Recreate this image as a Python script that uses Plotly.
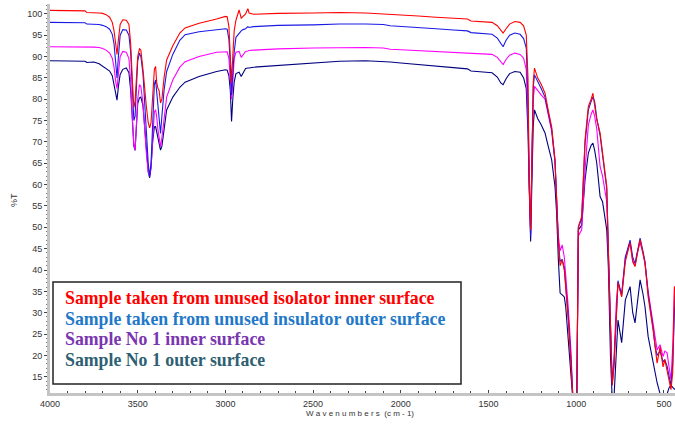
import plotly.graph_objects as go

# Wavenumber grid (cm-1) and %T values
wavenumbers = [4000, 3900, 3800, 3790, 3750, 3720, 3700, 3680, 3660, 3645, 3635, 3625, 3618, 3610,
               3600, 3585, 3565, 3550, 3540, 3530, 3522, 3515, 3508, 3500, 3490, 3482, 3470, 3460,
               3450, 3440, 3432, 3424, 3415, 3405, 3398, 3392, 3385, 3378, 3370, 3362, 3350, 3335,
               3300, 3260, 3230, 3150, 3050, 3000, 2990, 2980, 2972, 2965, 2958, 2950, 2940, 2922,
               2910, 2900, 2885, 2872, 2865, 2840, 2700, 2500, 2350, 2200, 2100, 2060, 2000, 1900,
               1800, 1700, 1620, 1600, 1550, 1480, 1450, 1430, 1417, 1400, 1380, 1350, 1320, 1300,
               1285, 1275, 1268, 1260, 1252, 1245, 1238, 1220, 1200, 1178, 1160, 1140, 1121, 1112,
               1102, 1092, 1080, 1068, 1060, 1045, 1030, 1018, 1005, 997, 988, 969, 950, 931,
               915, 905, 895, 883, 864, 850, 826, 817, 805, 795, 785, 772, 762, 741,
               720, 693, 678, 665, 650, 636, 620, 608, 590, 575, 562, 550, 539, 522,
               505, 495, 482, 470, 460, 450, 440, 437]

unused_inner = [100.8, 100.8, 100.7, 100.3, 100.3, 100.2, 100.1, 99.8, 99.2, 98.0, 96.0, 92.0, 90.5, 94.0,
                97.5, 98.6, 98.5, 97.5, 93.0, 84.0, 78.0, 79.5, 85.0, 90.0, 91.8, 91.5, 87.0, 82.0,
                78.0, 74.5, 73.3, 74.5, 80.0, 87.0, 87.7, 84.0, 82.6, 82.0, 79.1, 80.0, 85.0, 89.2,
                92.5, 95.5, 96.7, 97.8, 98.8, 99.4, 99.3, 97.0, 90.0, 84.0, 90.0, 96.0, 98.5, 100.9,
                99.0, 99.5, 100.0, 101.2, 100.2, 99.9, 100.1, 100.2, 100.3, 100.2, 100.0, 99.8, 99.8, 99.5,
                99.2, 99.0, 98.8, 98.3, 98.2, 98.0, 97.2, 96.0, 95.5, 96.5, 97.6, 98.2, 98.0, 97.2,
                95.0, 85.0, 60.0, 49.4, 70.0, 84.0, 87.3, 85.0, 83.5, 81.4, 77.5, 73.5, 65.8, 56.4,
                46.4, 41.0, 42.4, 40.0, 36.0, 28.0, 18.0, 9.0, 9.0, 9.0, 50.2, 52.5, 70.5, 78.3,
                80.0, 81.4, 78.5, 75.2, 72.1, 67.4, 59.6, 44.7, 28.0, 13.0, 17.4, 30.0, 37.0, 33.7,
                42.0, 46.4, 42.0, 40.8, 44.0, 47.1, 44.0, 41.6, 33.7, 30.0, 26.0, 22.0, 18.2, 22.0,
                17.3, 19.0, 16.6, 14.0, 12.0, 16.0, 36.1, 36.0]

unused_outer = [98.0, 98.0, 97.9, 97.6, 97.6, 97.5, 97.3, 97.0, 96.4, 95.2, 93.0, 88.0, 85.0, 90.0,
                95.0, 96.3, 96.2, 95.0, 91.0, 82.0, 75.0, 76.0, 83.0, 89.0, 90.8, 90.0, 86.0, 80.0,
                72.0, 65.0, 62.0, 65.0, 76.0, 83.5, 84.5, 82.0, 80.0, 77.0, 72.0, 76.0, 82.0, 86.5,
                90.5, 93.8, 95.1, 95.8, 96.3, 96.5, 96.4, 94.0, 88.0, 81.0, 86.0, 91.0, 94.5, 95.5,
                96.0, 96.3, 96.5, 97.0, 96.8, 97.0, 97.3, 97.4, 97.6, 97.6, 97.5, 97.2, 97.0, 96.8,
                96.5, 96.2, 96.0, 95.6, 95.5, 95.2, 94.3, 93.0, 92.3, 93.8, 95.0, 95.5, 95.2, 94.2,
                92.0, 80.0, 58.8, 48.0, 68.0, 83.0, 85.7, 84.0, 82.5, 80.5, 77.0, 73.0, 65.5, 56.0,
                46.5, 42.0, 42.5, 40.5, 37.0, 29.0, 19.0, 9.0, 9.0, 9.0, 50.0, 52.0, 69.5, 77.5,
                79.5, 80.5, 79.5, 75.5, 71.5, 67.0, 59.0, 45.0, 29.0, 13.0, 18.0, 31.0, 37.5, 34.0,
                43.0, 47.0, 43.0, 41.5, 45.0, 47.5, 44.5, 42.0, 34.5, 30.5, 26.5, 22.0, 20.0, 21.0,
                18.5, 19.0, 17.5, 15.0, 13.0, 18.0, 34.0, 34.0]

no1_inner = [92.3, 92.3, 92.3, 92.2, 92.2, 92.1, 91.9, 91.5, 90.8, 89.6, 87.5, 84.0, 82.5, 86.0,
             90.0, 91.2, 91.0, 89.5, 84.0, 75.0, 69.5, 68.1, 74.0, 80.0, 83.4, 83.0, 79.0, 72.5,
             67.0, 63.0, 62.0, 64.0, 71.0, 77.0, 77.5, 76.0, 73.0, 70.5, 68.9, 71.0, 76.0, 80.5,
             84.5, 87.5, 88.8, 90.0, 91.0, 91.2, 91.1, 89.5, 85.0, 80.0, 84.0, 89.5, 91.0, 91.2,
             89.8, 90.5, 91.2, 91.3, 91.4, 91.5, 91.8, 92.0, 92.1, 92.1, 92.0, 91.7, 91.6, 91.4,
             91.2, 91.0, 90.9, 90.8, 90.8, 90.5, 89.8, 88.6, 88.1, 89.3, 90.3, 90.8, 90.5, 89.6,
             87.0, 75.0, 62.0, 48.5, 68.0, 80.0, 83.0, 82.0, 81.0, 80.0, 76.5, 72.5, 65.0, 57.0,
             48.0, 44.5, 45.9, 43.0, 39.0, 31.0, 21.0, 9.0, 9.0, 9.0, 48.0, 49.4, 63.3, 74.0,
             76.5, 77.5, 76.0, 73.0, 64.2, 62.0, 56.0, 44.0, 30.0, 14.0, 19.0, 32.0, 37.0, 34.5,
             43.0, 46.5, 42.0, 41.0, 44.5, 46.5, 44.0, 41.5, 35.0, 31.0, 27.5, 24.0, 21.3, 22.5,
             19.7, 21.0, 20.6, 17.0, 14.3, 22.0, 36.1, 36.0]

no1_outer = [89.0, 89.0, 88.9, 88.6, 88.7, 88.3, 87.8, 87.2, 86.6, 85.5, 83.5, 81.5, 79.8, 83.0,
             85.8, 87.0, 87.3, 86.2, 82.0, 75.0, 69.0, 68.0, 74.0, 79.0, 80.3, 80.5, 78.5, 73.0,
             67.5, 63.0, 61.6, 64.0, 70.0, 73.5, 73.6, 72.5, 71.0, 69.5, 68.1, 69.0, 73.5, 77.5,
             80.5, 82.8, 84.0, 85.3, 86.5, 86.9, 86.8, 85.5, 82.0, 74.8, 80.0, 84.0, 86.0, 86.3,
             85.3, 86.2, 87.2, 87.3, 87.3, 87.5, 87.9, 88.6, 88.9, 89.0, 88.9, 88.7, 88.5, 88.1,
             87.8, 87.4, 87.1, 86.6, 86.5, 86.2, 85.2, 83.8, 83.4, 84.8, 86.0, 86.5, 86.3, 85.0,
             82.5, 72.0, 60.0, 46.7, 62.0, 74.0, 77.5, 75.5, 74.0, 72.1, 69.0, 65.8, 59.5, 53.4,
             42.4, 34.6, 34.2, 33.7, 31.4, 24.0, 15.0, 9.0, 9.0, 9.0, 49.4, 50.5, 61.1, 67.4,
             69.2, 69.7, 68.0, 65.0, 57.2, 56.0, 49.4, 40.8, 20.0, 10.0, 10.0, 20.0, 28.3, 23.0,
             33.0, 36.1, 30.0, 27.6, 33.0, 37.7, 34.5, 31.4, 24.4, 21.0, 18.2, 16.0, 13.6, 11.0,
             10.0, 10.0, 11.0, 12.5, 13.0, 12.5, 12.0, 12.0]

legend_texts = ["Sample taken from unused isolator inner surface",
                "Sample taken from unused insulator outer surface",
                "Sample No 1 inner surface",
                "Sample No 1 outer surface"]
legend_colors = ["#ff0000", "#1f78c8", "#7a35b0", "#2f5f72"]

x_ticks = [4000, 3500, 3000, 2500, 2000, 1500, 1000, 500]
y_ticks = list(range(15, 101, 5))

fig = go.Figure()
series = [(no1_outer, "#000080"), (no1_inner, "#ff00ff"), (unused_outer, "#1a1ae6"), (unused_inner, "#ff0000")]
for vals, col in series:
    fig.add_trace(go.Scatter(x=wavenumbers, y=vals, mode="lines",
                             line=dict(color=col, width=1.1), showlegend=False, hoverinfo="skip"))

L, R, T, B = 50, 0, 4, 34
W, H = 675, 427
pw, ph = W - L - R, H - T - B

def px(x):
    return (x - L) / pw

def py(y):
    return (H - B - y) / ph

fig.add_shape(type="rect", xref="paper", yref="paper",
              x0=px(53), x1=px(461), y0=py(384), y1=py(282),
              line=dict(color="#222222", width=1.5), fillcolor="white", layer="above")

for i, (t, c) in enumerate(zip(legend_texts, legend_colors)):
    fig.add_annotation(xref="paper", yref="paper", x=px(63), y=py(298 + 20.5 * i),
                       xanchor="left", yanchor="middle", showarrow=False,
                       text="<b>" + t + "</b>",
                       font=dict(family="Liberation Serif", size=17.8, color=c))

fig.add_annotation(xref="paper", yref="paper", x=px(14), y=py(200), textangle=-90,
                   showarrow=False, text="%T", xanchor="center", yanchor="middle",
                   font=dict(family="Liberation Sans", size=9, color="#333333"))
fig.add_annotation(xref="paper", yref="paper", x=px(360), y=py(413),
                   showarrow=False, text="W a v e n u m b e r s  (c m - 1)",
                   xanchor="center", yanchor="middle",
                   font=dict(family="Liberation Sans", size=8, color="#333333"))

fig.update_layout(
    width=W, height=H,
    margin=dict(l=L, r=R, t=T, b=B, autoexpand=False),
    paper_bgcolor="white", plot_bgcolor="white",
    xaxis=dict(range=[4000, 437], tickvals=x_ticks, showgrid=False, zeroline=False, automargin=False,
               showline=True, linecolor="#c4c4c4", linewidth=3,
               ticks="inside", ticklen=3, tickcolor="#444444",
               minor=dict(dtick=100, ticks="inside", ticklen=2, tickcolor="#444444"),
               tickfont=dict(family="Liberation Sans", size=9, color="#333333")),
    yaxis=dict(range=[11.2, 102.3], tickvals=y_ticks, showgrid=False, zeroline=False, automargin=False,
               showline=True, linecolor="#c4c4c4", linewidth=3,
               ticks="outside", ticklen=3, tickcolor="#444444",
               minor=dict(dtick=1, ticks="outside", ticklen=1, tickcolor="#777777"),
               tickfont=dict(family="Liberation Sans", size=9, color="#333333")),
)

fig.write_html("out.html", config={"displayModeBar": False},
               post_script="document.body.style.margin='0';")
